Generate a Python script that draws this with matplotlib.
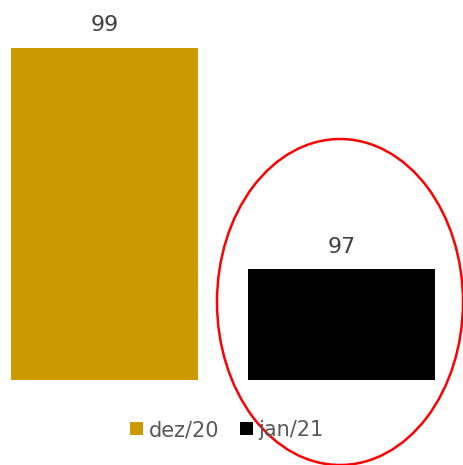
import matplotlib
matplotlib.use("Agg")
import matplotlib.pyplot as plt
from matplotlib.patches import Patch, Ellipse

categories = ["dez/20", "jan/21"]
values = [99, 97]
colors = ["#CC9900", "#000000"]

W, H = 463, 465
fig = plt.figure(figsize=(W / 100, H / 100), dpi=100)
# axes occupies from y=380px (top-origin) up to top
ax = fig.add_axes([0, (H - 380) / H, 1, 380 / H])
scale_x = 237.0
xmin = -104.5 / scale_x
ax.set_xlim(xmin, xmin + W / scale_x)
ymin = 96
ax.set_ylim(ymin, ymin + 380 / 110.7)

x = list(range(len(categories)))
bars = ax.bar(x, [v - ymin for v in values], bottom=ymin, width=187 / scale_x,
              color=colors)
for xi, v in zip(x, values):
    ax.annotate(str(v), (xi, v), xytext=(0, 12), textcoords="offset points",
                ha="center", va="baseline", fontsize=16, color="#404040")
ax.axis("off")

handles = [Patch(facecolor=c, edgecolor="none") for c in colors]
fig.legend(handles, categories, loc="center", bbox_to_anchor=(0.49, 1 - 430 / H),
           ncol=2, frameon=False, fontsize=15, handlelength=0.62, handleheight=0.62,
           handletextpad=0.25, columnspacing=1.0, labelcolor="#595959",
           borderaxespad=0, borderpad=0)

ell = Ellipse((340 / W, 1 - 302 / H), 246 / W, 326 / H, transform=fig.transFigure,
              fill=False, edgecolor="#FF0000", linewidth=1.8)
fig.add_artist(ell)

fig.savefig("out.png", dpi=100)
